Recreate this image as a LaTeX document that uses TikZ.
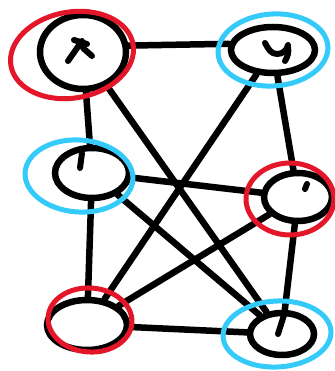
\documentclass[tikz,border=0pt]{standalone}
\usetikzlibrary{shapes.geometric}
\definecolor{hred}{RGB}{228,22,42}
\definecolor{hblue}{RGB}{52,202,250}
\begin{document}
\begin{tikzpicture}[x=1pt,y=-1pt,
  vert/.style={ellipse, draw=black, line width=6.5pt, inner sep=0pt},
  link/.style={draw=black, line width=6.5pt, line cap=round, line join=round},
  glyph/.style={draw=black, line width=6pt, line cap=round, line join=round},
  ring/.style={ellipse, line width=5pt, inner sep=0pt}]
\useasboundingbox (0,0) rectangle (334,371);
% vertices
\node[vert, minimum width=86pt, minimum height=74pt] (A) at (83,52) {};
\node[vert, minimum width=84pt, minimum height=46pt] (B) at (273,50) {};
\node[vert, minimum width=74pt, minimum height=50pt] (C) at (92,173) {};
\node[vert, minimum width=68pt, minimum height=48pt] (D) at (298,197) {};
\node[vert, minimum width=80pt, minimum height=50pt] (E) at (87,325) {};
\node[vert, minimum width=64pt, minimum height=42pt] (F) at (282,334) {};
% edges
\draw[link] (A.8) -- (B.172);
\draw[link] (A) -- (C);
\draw[link] (A) -- (F);
\draw[link] (B) -- (D);
\draw[link] (B) -- (E);
\draw[link] (C) -- (D);
\draw[link] (C) -- (E);
\draw[link] (C) -- (F);
\draw[link] (D) -- (E);
\draw[link] (D) -- (F);
\draw[link] (E) -- (F);
% inner marks
\draw[glyph] (68,61) -- (82,41);
\draw[glyph] (74,40) -- (87,44);
\draw[glyph] (83,48) -- (92,56);
\draw[glyph] (265,43) to[out=-60,in=180] (277,54) to[out=0,in=-100] (288,45);
\draw[glyph] (288,47) to[out=-80,in=60] (285,61);
\draw[glyph] (82,153) -- (80,168);
\draw[glyph] (307,184) -- (305,189);
\draw[glyph] (284,315) -- (278,334);
% colored rings
\node[ring, draw=hred, minimum width=124pt, minimum height=86pt, rotate=10] (ra) at (72,55) {};
\node[ring, draw=hblue, minimum width=110pt, minimum height=72pt, rotate=4] (rb) at (273,50) {};
\node[ring, draw=hblue, minimum width=108pt, minimum height=72pt, rotate=-4] (rc) at (79,176) {};
\node[ring, draw=hred, minimum width=88pt, minimum height=72pt] (rd) at (290,199) {};
\node[ring, draw=hred, minimum width=84pt, minimum height=64pt, rotate=-4] (re) at (90,320) {};
\node[ring, draw=hblue, minimum width=108pt, minimum height=66pt, rotate=3] (rf) at (277,334) {};
\end{tikzpicture}
\end{document}
